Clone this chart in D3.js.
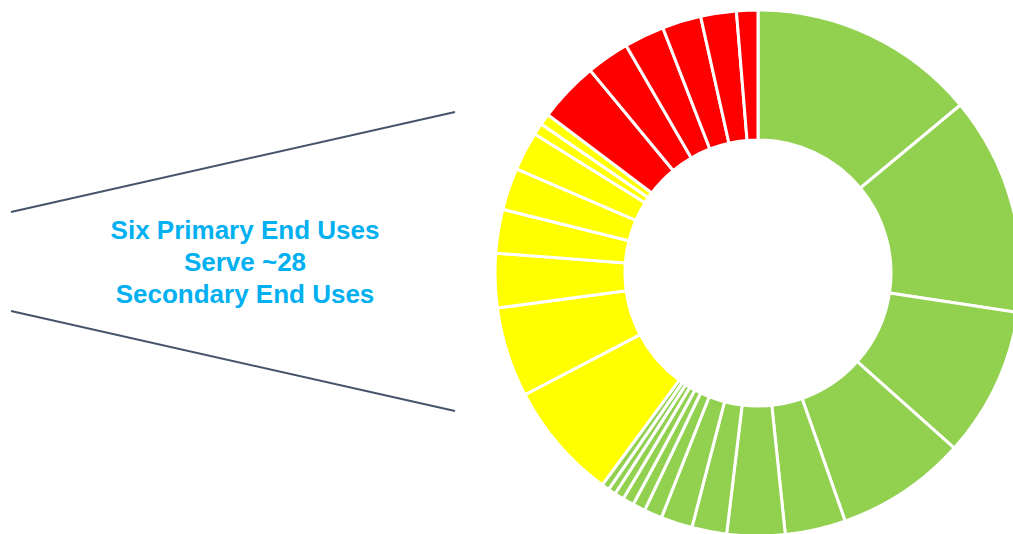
<!DOCTYPE html>
<html>
<head>
<meta charset="utf-8">
<script src="https://cdn.jsdelivr.net/npm/d3@7"></script>
<style>
    html, body { margin: 0; padding: 0; background: #fff; overflow: hidden; }
    svg { display: block; }
</style>
</head>
<body>
<svg id="chart" width="1013" height="534"></svg>
<script>
// share of each secondary end use (%), clockwise from 12 o'clock
const greenUses = [13.97, 13.42, 9.19, 8.03, 3.72, 3.56, 2.14, 1.94, 1.11, 0.78, 0.69, 0.58, 0.47, 0.47]
const yellowUses = [7.25, 5.53, 3.33, 2.69, 2.58, 2.39, 0.72, 0.69]
const redUses = [3.72, 2.64, 2.47, 2.39, 2.19, 1.31]
const groups = ['green', 'yellow', 'red']
const groupColors = ['#92D050', '#FFFF00', '#FF0000']
const calloutLines = ['Six Primary End Uses', 'Serve ~28', 'Secondary End Uses']

const width = 1013
const height = 534
const cx = 758
const cy = 273
const outerRadius = 263
const innerRadius = 133

const data = []
greenUses.forEach(v => data.push({ group: 'green', value: v }))
yellowUses.forEach(v => data.push({ group: 'yellow', value: v }))
redUses.forEach(v => data.push({ group: 'red', value: v }))

const color = d3.scaleOrdinal().domain(groups).range(groupColors)

const pie = d3.pie().sort(null).value(d => d.value)
const arc = d3.arc().innerRadius(innerRadius).outerRadius(outerRadius)

const svg = d3.select('#chart')

svg.append('g')
    .attr('transform', `translate(${cx},${cy})`)
    .selectAll('path')
    .data(pie(data))
    .enter()
    .append('path')
    .attr('d', arc)
    .attr('fill', d => color(d.data.group))
    .attr('stroke', '#fff')
    .attr('stroke-width', 3)
    .attr('stroke-linejoin', 'miter')

// the two funnel lines pointing at the donut
const funnel = [
    [[11, 212], [455, 112]],
    [[11, 311], [455, 411]]
]
svg.selectAll('line.funnel')
    .data(funnel)
    .enter()
    .append('line')
    .attr('class', 'funnel')
    .attr('x1', d => d[0][0])
    .attr('y1', d => d[0][1])
    .attr('x2', d => d[1][0])
    .attr('y2', d => d[1][1])
    .attr('stroke', '#44546A')
    .attr('stroke-width', 2)

svg.append('text')
    .attr('x', 245)
    .attr('y', 239)
    .attr('text-anchor', 'middle')
    .attr('fill', '#00B0F0')
    .style('font-family', '"Liberation Sans", Arial, sans-serif')
    .style('font-weight', 'bold')
    .style('font-size', '26px')
    .selectAll('tspan')
    .data(calloutLines)
    .enter()
    .append('tspan')
    .attr('x', 245)
    .attr('dy', (d, i) => i === 0 ? 0 : 32)
    .text(d => d)
</script>
</body>
</html>
